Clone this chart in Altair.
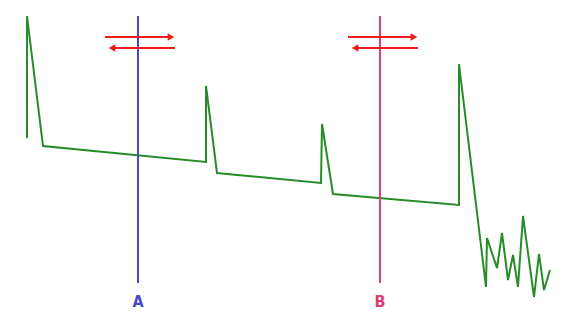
import altair as alt
import pandas as pd

# OTDR trace (distance units, level units; level axis is inverted)
trace_x = [27, 27, 43, 206, 206, 217, 321, 322, 333, 459, 459, 486, 487, 497, 502, 508, 513, 518, 523, 534, 539, 544, 550]
trace_y = [138, 16, 146, 162, 86, 173, 183, 124, 194, 205, 64, 287, 238, 268, 233, 280, 255, 287, 216, 297, 254, 290, 270]

cursor_names = ["A", "B"]
cursor_x = [138, 380]
cursor_colors = ["#4848cc", "#e03c78"]

arrow_start = [105, 348]
arrow_end = [175, 418]

X_DOM = [8, 559]
Y_DOM = [8, 310]

trace = pd.DataFrame({"x": trace_x, "y": trace_y, "i": list(range(len(trace_x)))})
cursors = pd.DataFrame({"name": cursor_names, "x": cursor_x, "color": cursor_colors,
                        "top": [16, 16], "bot": [283, 283], "lab": [302, 302]})
arrows_r = pd.DataFrame({"x": arrow_start, "x2": [e - 5 for e in arrow_end],
                         "xh": [e - 4 for e in arrow_end], "y": [37, 37]})
arrows_l = pd.DataFrame({"x": [s + 8 for s in arrow_start], "xh": [s + 7 for s in arrow_start],
                         "x2": arrow_end, "y": [48, 48]})

xs = alt.Scale(domain=X_DOM, nice=False, zero=False)
ys = alt.Scale(domain=Y_DOM, reverse=True, nice=False, zero=False)

def X(f="x"):
    return alt.X(f, type="quantitative", scale=xs, axis=None)

def Y(f="y"):
    return alt.Y(f, type="quantitative", scale=ys, axis=None)

RED = "#ee1c1c"

line = alt.Chart(trace).mark_line(color="#278c27", strokeWidth=2).encode(
    x=X(), y=Y(), order="i:Q")

crules = alt.Chart(cursors).mark_rule(strokeWidth=2).encode(
    x=X(), y=Y("top"), y2="bot", color=alt.Color("color:N", scale=None))

clabels = alt.Chart(cursors).mark_text(fontSize=16, fontWeight="bold", font="DejaVu Sans Condensed").encode(
    x=X(), y=Y("lab"), text="name:N", color=alt.Color("color:N", scale=None))

rr = alt.Chart(arrows_r).mark_rule(color=RED, strokeWidth=2).encode(x=X(), x2="x2", y=Y())
rh = alt.Chart(arrows_r).mark_point(shape="triangle-right", filled=True, color=RED, size=60, opacity=1).encode(
    x=X("xh"), y=Y())
lr = alt.Chart(arrows_l).mark_rule(color=RED, strokeWidth=2).encode(x=X(), x2="x2", y=Y())
lh = alt.Chart(arrows_l).mark_point(shape="triangle-left", filled=True, color=RED, size=60, opacity=1).encode(
    x=X("xh"), y=Y())

chart = alt.layer(line, crules, clabels, rr, rh, lr, lh).properties(
    width=551, height=302, padding=0, autosize=alt.AutoSizeParams(type="none"),
    background="white"
).configure_view(stroke=None)

chart.save("out.html", embed_options={"renderer": "svg", "actions": False})
